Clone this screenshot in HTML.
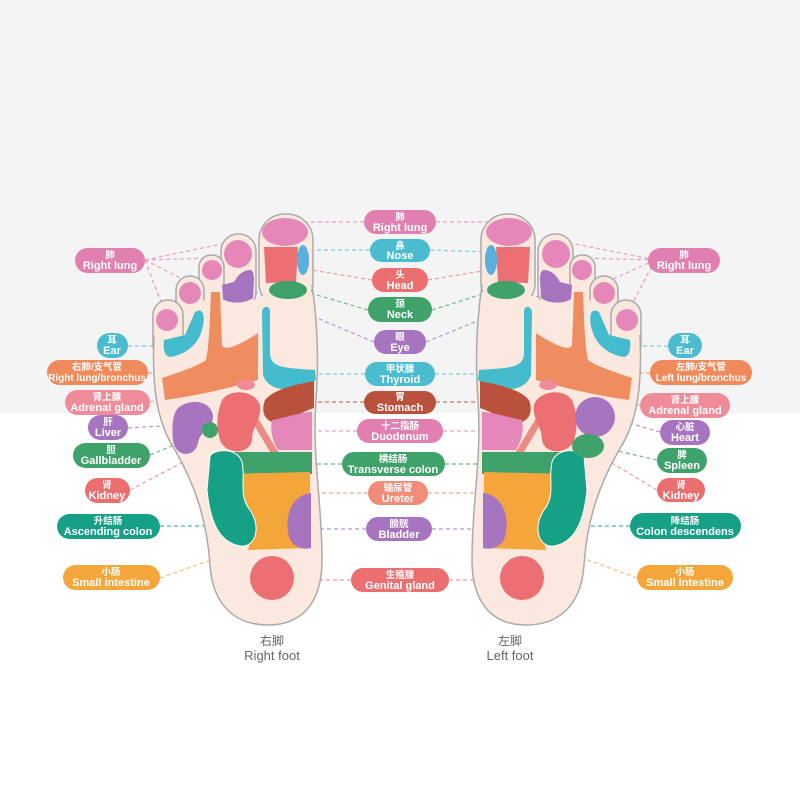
<!DOCTYPE html>
<html><head><meta charset="utf-8"><style>
html,body{margin:0;padding:0;width:800px;height:800px;overflow:hidden;background:#fff}
svg{display:block}
.t{font-family:"Liberation Sans","Noto Sans CJK SC",sans-serif;fill:#fff;text-anchor:middle;font-weight:bold}
.c{font-size:9.5px}
.e{font-size:11px}
.d{fill:none;stroke-width:1.2;stroke-dasharray:4 3}
.f{font-family:"Liberation Sans","Noto Sans CJK SC",sans-serif;fill:#666;text-anchor:middle}
</style></head><body>
<svg width="800" height="800" viewBox="0 0 800 800" xmlns="http://www.w3.org/2000/svg">
<rect x="0" y="0" width="800" height="413" fill="#f4f4f4"/>

<g class="d">
<path d="M145 260 L165 312 M145 260 L190 283 M145 260 L212 258 M145 260 L240 240 M145 260 L160 300" stroke="#e7a0c4"/>
<path d="M655 260 L628 312 M655 260 L604 283 M655 260 L582 258 M655 260 L556 240 M655 260 L634 300" stroke="#e7a0c4"/>
<path d="M128 346 L170 346 M668 346 L625 346" stroke="#7ccfdc"/>
<path d="M148 373 L175 373 M650 373 L620 373" stroke="#f2a27e"/>
<path d="M150 402 L178 395 M640 405 L615 400" stroke="#f1a5af"/>
<path d="M128 428 L178 425 M660 432 L612 418" stroke="#b996cf"/>
<path d="M150 455 L205 432 M657 460 L600 447" stroke="#6fb98e"/>
<path d="M130 490 L225 440 M657 490 L565 435" stroke="#f09a9a"/>
<path d="M160 526 L210 526 M630 526 L585 526" stroke="#4fb5a3"/>
<path d="M160 578 L245 548 M637 578 L555 548" stroke="#f3bf80"/>
<path d="M364 222 L305 222 M436 222 L492 222" stroke="#e7a0c4"/>
<path d="M370 250 L307 250 M430 250 L488 252" stroke="#7ccfdc"/>
<path d="M372 280 L300 268 M428 280 L500 268" stroke="#f09a9a"/>
<path d="M368 310 L300 290 M432 310 L495 290" stroke="#6fb98e"/>
<path d="M374 342 L255 292 M426 342 L548 292" stroke="#b996cf"/>
<path d="M365 374 L318 374 M435 374 L478 374" stroke="#7ccfdc"/>
<path d="M364 402 L315 402 M436 402 L478 402" stroke="#c77b6a"/>
<path d="M357 431 L312 431 M443 431 L480 431" stroke="#e7a0c4"/>
<path d="M342 464 L310 464 M445 464 L480 464" stroke="#6fb98e"/>
<path d="M368 493 L300 493 M428 493 L490 493" stroke="#f2a98f"/>
<path d="M366 529 L312 529 M432 529 L482 529" stroke="#b996cf"/>
<path d="M351 580 L294 580 M449 580 L500 580" stroke="#f09a9a"/>
</g>

<defs>
<g id="outline">
 <g fill="#fbe9df" stroke="#aaa" stroke-width="1.5">
  <rect x="259" y="214" width="54" height="95" rx="26"/>
  <rect x="221" y="234" width="35" height="75" rx="17"/>
  <rect x="199" y="255" width="25" height="55" rx="12"/>
  <rect x="176" y="276" width="28" height="60" rx="14"/>
  <rect x="153" y="300" width="30" height="60" rx="15"/>
 </g>
 <path d="M155 340 C 152 380 155 420 175 450 C 195 485 207 520 210 565 C 213 610 240 625 268 625 C 300 625 322 605 322 560 C 322 500 312 460 316 400 C 320 340 314 305 312 292 L 262 296 L 256 300 L 224 300 L 222 298 L 204 300 L 201 310 L 184 330 L 183 345 Z" fill="#fbe9df"/>
 <path d="M154 335 C 152 380 155 420 175 450 C 195 485 207 520 210 565 C 213 610 240 625 268 625 C 300 625 322 605 322 560 C 322 500 312 460 316 400 C 320 345 315 305 312 285" fill="none" stroke="#aaa" stroke-width="1.5"/>
</g>
<g id="common">
 <ellipse cx="285" cy="232" rx="23" ry="14" fill="#e587b8"/>
 <path d="M264 247 L298 247 L296 282 L266 283 Z" fill="#ec6f73"/>
 <ellipse cx="303" cy="260" rx="6" ry="15" fill="#5ab0dc"/>
 <ellipse cx="288" cy="290" rx="19" ry="9" fill="#3fa26a"/>
 <circle cx="238" cy="254" r="14" fill="#e587b8"/>
 <path d="M222 285 L234 282 C 238 274 244 270 250 270 C 253 270 254 274 254 280 L253 298 C 245 304 230 304 223 299 Z" fill="#a774c0"/>
 <circle cx="212" cy="270" r="10" fill="#e587b8"/>
 <circle cx="190" cy="293" r="11" fill="#e587b8"/>
 <circle cx="167" cy="320" r="11" fill="#e587b8"/>
 <path d="M164 340 L185 335 L195 312 C 205 306 205 320 202 330 C 198 345 185 355 170 357 C 164 356 163 348 164 340 Z" fill="#45bccd"/>
 <path d="M211 292 L220 292 L222 345 C 224 352 240 345 258 333 L258 380 C 230 388 195 396 165 400 L162 378 C 180 372 198 366 206 360 C 210 340 210 310 211 292 Z" fill="#f08d60"/>
 <path d="M262 312 C 263 305 270 305 270 312 L270 355 C 272 368 285 368 315 370 L316 380 C 300 392 270 395 263 375 Z" fill="#45bccd"/>
 <ellipse cx="246" cy="385" rx="9" ry="5" fill="#f08c9a"/>
 <path d="M265 400 C 275 388 300 384 314 381 L314 408 C 300 412 285 425 272 422 C 262 418 262 408 265 400 Z" fill="#b9513c"/>
 <path d="M272 420 C 285 418 300 412 312 412 L312 450 L278 450 C 272 440 270 430 272 420 Z" fill="#e587b8"/>
 <path d="M252 415 L300 495" stroke="#ea8b84" stroke-width="7"/>
 <path d="M222 400 C 230 388 255 390 260 405 C 262 420 252 425 252 440 C 250 455 225 455 220 440 C 215 425 218 410 222 400 Z" fill="#ec6f73"/>
 <rect x="222" y="452" width="90" height="22" fill="#3fa26a"/>
 <path d="M223 474 L310 472 L310 548 L248 550 C 255 530 232 510 222 490 Z" fill="#f5a63a"/>
 <path d="M210 456 C 215 448 238 448 242 462 C 246 480 238 495 250 510 C 262 528 255 548 240 546 C 218 542 210 520 207 490 Z" fill="#16a085" stroke="#fff" stroke-width="1"/>
 <path d="M311 493 C 290 495 283 520 290 540 C 295 548 305 550 311 548 Z" fill="#a774c0"/>
 <circle cx="272" cy="578" r="22" fill="#ec6f73"/>
</g>
</defs>
<use href="#outline"/>
<use href="#common"/>
<path d="M178 408 C 190 398 210 400 213 415 C 214 428 200 430 198 443 C 195 458 175 458 173 440 C 172 428 172 415 178 408 Z" fill="#a774c0"/>
<circle cx="210" cy="430" r="8" fill="#3fa26a"/>

<g transform="translate(794,0) scale(-1,1)">
<use href="#outline"/>
<use href="#common"/>
</g>
<circle cx="595" cy="417" r="20" fill="#a774c0"/>
<ellipse cx="588" cy="446" rx="16" ry="12" fill="#3fa26a"/>

<text class="f" x="272" y="645" font-size="12">右脚</text>
<text class="f" x="272" y="660" font-size="13">Right foot</text>
<text class="f" x="510" y="645" font-size="12">左脚</text>
<text class="f" x="510" y="660" font-size="13">Left foot</text>

<g>
<rect x="364" y="210" width="72" height="24" rx="12" fill="#e07fb0"/><text class="t c" x="400" y="220">肺</text><text class="t e" x="400" y="231">Right lung</text>
<rect x="370" y="239" width="60" height="23" rx="11.5" fill="#4bbcd0"/><text class="t c" x="400" y="249">鼻</text><text class="t e" x="400" y="259">Nose</text>
<rect x="372" y="268" width="56" height="24" rx="12" fill="#ec6f6f"/><text class="t c" x="400" y="278">头</text><text class="t e" x="400" y="289">Head</text>
<rect x="368" y="297" width="64" height="25" rx="12.5" fill="#3fa26a"/><text class="t c" x="400" y="307">颈</text><text class="t e" x="400" y="318">Neck</text>
<rect x="374" y="330" width="52" height="24" rx="12" fill="#a774c0"/><text class="t c" x="400" y="340">眼</text><text class="t e" x="400" y="351">Eye</text>
<rect x="365" y="362" width="70" height="24" rx="12" fill="#4bbcd0"/><text class="t c" x="400" y="372">甲状腺</text><text class="t e" x="400" y="383">Thyroid</text>
<rect x="364" y="391" width="72" height="23" rx="11.5" fill="#b9513c"/><text class="t c" x="400" y="400">胃</text><text class="t e" x="400" y="411">Stomach</text>
<rect x="357" y="419" width="86" height="24" rx="12" fill="#e07fb0"/><text class="t c" x="400" y="429">十二指肠</text><text class="t e" x="400" y="440">Duodenum</text>
<rect x="342" y="452" width="103" height="24" rx="12" fill="#3fa26a"/><text class="t c" x="393" y="462">横结肠</text><text class="t e" x="393" y="473">Transverse colon</text>
<rect x="368" y="481" width="60" height="24" rx="12" fill="#f08c78"/><text class="t c" x="398" y="491">输尿管</text><text class="t e" x="398" y="502">Ureter</text>
<rect x="366" y="517" width="66" height="24" rx="12" fill="#a774c0"/><text class="t c" x="399" y="527">膀胱</text><text class="t e" x="399" y="538">Bladder</text>
<rect x="351" y="568" width="98" height="24" rx="12" fill="#ec6f6f"/><text class="t c" x="400" y="578">生殖腺</text><text class="t e" x="400" y="589">Genital gland</text>
</g>

<g>
<rect x="75" y="248" width="70" height="25" rx="12.5" fill="#e07fb0"/><text class="t c" x="110" y="258">肺</text><text class="t e" x="110" y="269">Right lung</text>
<rect x="97" y="333" width="31" height="25" rx="12.5" fill="#4bbcd0"/><text class="t c" x="112" y="343">耳</text><text class="t e" x="112" y="354">Ear</text>
<rect x="47" y="360" width="101" height="25" rx="12.5" fill="#f08a5a"/><text class="t c" x="97" y="370">右肺/支气管</text><text class="t" style="font-size:10px" x="97" y="381">Right lung/bronchus</text>
<rect x="65" y="390" width="85" height="25" rx="12.5" fill="#f08c9a"/><text class="t c" x="107" y="400">肾上腺</text><text class="t e" x="107" y="411">Adrenal gland</text>
<rect x="88" y="415" width="40" height="25" rx="12.5" fill="#a774c0"/><text class="t c" x="108" y="425">肝</text><text class="t e" x="108" y="436">Liver</text>
<rect x="73" y="443" width="77" height="25" rx="12.5" fill="#3fa26a"/><text class="t c" x="111" y="453">胆</text><text class="t e" x="111" y="464">Gallbladder</text>
<rect x="85" y="478" width="45" height="25" rx="12.5" fill="#ec6f6f"/><text class="t c" x="107" y="488">肾</text><text class="t e" x="107" y="499">Kidney</text>
<rect x="57" y="514" width="103" height="25" rx="12.5" fill="#16a085"/><text class="t c" x="108" y="524">升结肠</text><text class="t e" x="108" y="535">Ascending colon</text>
<rect x="63" y="565" width="97" height="25" rx="12.5" fill="#f5a63a"/><text class="t c" x="111" y="575">小肠</text><text class="t e" x="111" y="586">Small intestine</text>
</g>

<g>
<rect x="648" y="248" width="72" height="25" rx="12.5" fill="#e07fb0"/><text class="t c" x="684" y="258">肺</text><text class="t e" x="684" y="269">Right lung</text>
<rect x="668" y="333" width="34" height="25" rx="12.5" fill="#4bbcd0"/><text class="t c" x="685" y="343">耳</text><text class="t e" x="685" y="354">Ear</text>
<rect x="650" y="360" width="102" height="25" rx="12.5" fill="#f08a5a"/><text class="t c" x="701" y="370">左肺/支气管</text><text class="t" style="font-size:10px" x="701" y="381">Left lung/bronchus</text>
<rect x="640" y="393" width="90" height="25" rx="12.5" fill="#f08c9a"/><text class="t c" x="685" y="403">肾上腺</text><text class="t e" x="685" y="414">Adrenal gland</text>
<rect x="660" y="420" width="50" height="25" rx="12.5" fill="#a774c0"/><text class="t c" x="685" y="430">心脏</text><text class="t e" x="685" y="441">Heart</text>
<rect x="657" y="448" width="50" height="25" rx="12.5" fill="#3fa26a"/><text class="t c" x="682" y="458">脾</text><text class="t e" x="682" y="469">Spleen</text>
<rect x="657" y="478" width="48" height="24" rx="12" fill="#ec6f6f"/><text class="t c" x="681" y="488">肾</text><text class="t e" x="681" y="499">Kidney</text>
<rect x="630" y="513" width="111" height="26" rx="13" fill="#16a085"/><text class="t c" x="685" y="524">降结肠</text><text class="t e" x="685" y="535">Colon descendens</text>
<rect x="637" y="565" width="96" height="25" rx="12.5" fill="#f5a63a"/><text class="t c" x="685" y="575">小肠</text><text class="t e" x="685" y="586">Small intestine</text>
</g>
</svg>
</body></html>
